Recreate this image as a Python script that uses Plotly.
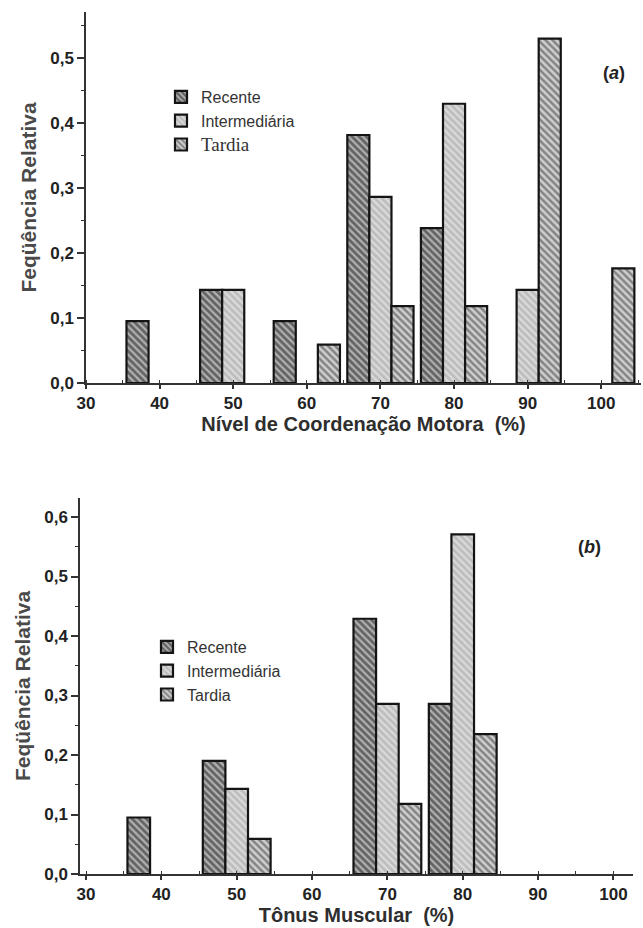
import plotly.graph_objects as go

# ---------------- data ----------------
series_names = ["Recente", "Intermediária", "Tardia"]

# (a) Nível de Coordenação Motora
a_recente_x = [40, 50, 60, 70, 80]
a_recente_y = [0.095, 0.143, 0.095, 0.381, 0.238]
a_inter_x = [50, 70, 80, 90]
a_inter_y = [0.143, 0.286, 0.429, 0.143]
a_tardia_x = [60, 70, 80, 90, 100]
a_tardia_y = [0.059, 0.118, 0.118, 0.529, 0.176]

# (b) Tônus Muscular
b_recente_x = [40, 50, 70, 80]
b_recente_y = [0.095, 0.190, 0.429, 0.286]
b_inter_x = [50, 70, 80]
b_inter_y = [0.143, 0.286, 0.571]
b_tardia_x = [50, 70, 80]
b_tardia_y = [0.059, 0.118, 0.235]

x_ticks = [30, 40, 50, 60, 70, 80, 90, 100]

# ---------------- styles ----------------
W, H = 643, 928
patterns = {
    "Recente": dict(shape="\\", fgcolor="#151515", bgcolor="#b0b0b0", size=5, solidity=0.55),
    "Intermediária": dict(shape="\\", fgcolor="#f8f8f8", bgcolor="#bdbdbd", size=5, solidity=0.45),
    "Tardia": dict(shape="\\", fgcolor="#3a3a3a", bgcolor="#cfcfcf", size=5, solidity=0.5),
}
outline = dict(color="#141414", width=2.2)

fig = go.Figure()

top_names = ["Recente", "Intermediária",
             '<span style="font-family:Liberation Serif;font-size:19px">Tardia</span>']
for (nm, lab, xs, ys) in zip(series_names, top_names,
                             [a_recente_x, a_inter_x, a_tardia_x],
                             [a_recente_y, a_inter_y, a_tardia_y]):
    fig.add_trace(go.Bar(x=xs, y=ys, name=lab, offsetgroup=nm,
                         marker=dict(color=patterns[nm]["bgcolor"], pattern=patterns[nm], line=outline),
                         xaxis="x", yaxis="y", legend="legend"))

for (nm, xs, ys) in zip(series_names,
                        [b_recente_x, b_inter_x, b_tardia_x],
                        [b_recente_y, b_inter_y, b_tardia_y]):
    fig.add_trace(go.Bar(x=xs, y=ys, name=nm, offsetgroup=nm,
                         marker=dict(color=patterns[nm]["bgcolor"], pattern=patterns[nm], line=outline),
                         xaxis="x2", yaxis="y2", legend="legend2"))

tickfont = dict(family="Liberation Sans", size=17, color="#222222", weight="bold")
titlefont = dict(family="Liberation Sans", size=20, color="#2e2e2e", weight="bold")

def xaxis(domain, rng, title, anchor):
    return dict(domain=domain, range=rng, tickvals=x_ticks, showgrid=False, zeroline=False,
                showline=True, linecolor="#333", linewidth=1.5, ticks="outside", ticklen=4,
                tickcolor="#333", tickwidth=1.5, tickfont=tickfont, automargin=False, anchor=anchor,
                minor=dict(dtick=5, ticks="inside", ticklen=3, tickcolor="#333", tickwidth=1),
                title=dict(text=title, font=titlefont, standoff=3))

def yaxis(domain, rng, anchor):
    return dict(domain=domain, range=rng, dtick=0.1, tick0=0, tickformat=".1f", showgrid=False,
                zeroline=False, showline=True, linecolor="#333", linewidth=1.5, ticks="outside",
                ticklen=7, tickcolor="#333", tickwidth=1.5, tickfont=tickfont, anchor=anchor,
                automargin=False,
                minor=dict(dtick=0.05, ticks="outside", ticklen=3, tickcolor="#333", tickwidth=1),
                title=dict(text="Feqüência Relativa",
                           font=dict(family="Liberation Sans", size=21, color="#4a4a4a", weight="bold"),
                           standoff=8))

legfont = dict(family="Liberation Sans", size=16, color="#333")

fig.update_layout(
    width=W, height=H, margin=dict(l=0, r=0, t=0, b=0, autoexpand=False),
    paper_bgcolor="white", plot_bgcolor="white",
    separators=",.", barmode="group", bargap=0.1, bargroupgap=0,
    xaxis=xaxis([86 / W, 641 / W], [30, 105.4], "Nível de Coordenação Motora  (%)", "y"),
    yaxis=yaxis([1 - 383 / H, 1 - 12 / H], [0, 0.57], "x"),
    xaxis2=xaxis([80 / W, 633 / W], [29.2, 102.6], "Tônus Muscular  (%)", "y2"),
    yaxis2=yaxis([1 - 874 / H, 1 - 498 / H], [0, 0.632], "x2"),
    legend=dict(x=161 / W, y=1 - 80 / H, xanchor="left", yanchor="top", bgcolor="rgba(0,0,0,0)",
                font=legfont, tracegroupgap=0, itemclick=False),
    legend2=dict(x=147 / W, y=1 - 630 / H, xanchor="left", yanchor="top", bgcolor="rgba(0,0,0,0)",
                 font=legfont, tracegroupgap=0, itemclick=False),
    annotations=[
        dict(text="<b>(<i>a</i>)</b>", x=627 / W, y=1 - 61 / H, xref="paper", yref="paper",
             showarrow=False, font=dict(family="Liberation Sans", size=18, color="#222")),
        dict(text="<b>(<i>b</i>)</b>", x=603 / W, y=1 - 547 / H, xref="paper", yref="paper",
             showarrow=False, font=dict(family="Liberation Sans", size=18, color="#222")),
    ],
)

fig.write_html("out.html", config={"displayModeBar": False},
               post_script="document.body.style.margin='0';document.body.style.overflow='hidden';")
